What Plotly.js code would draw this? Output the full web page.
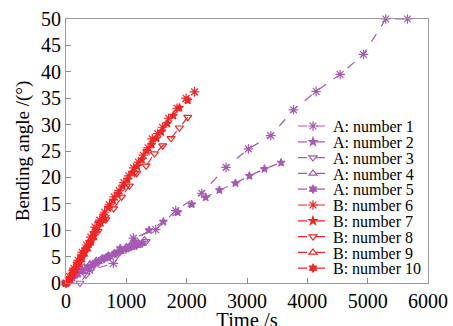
<!DOCTYPE html>
<html><head><meta charset="utf-8">
<script src="https://cdn.plot.ly/plotly-3.0.1.min.js"></script>
<style>html,body{margin:0;padding:0;background:#fff}#c{width:453px;height:326px}</style>
</head><body><div id="c"></div>
<script>
const names = ["A: number 1","A: number 2","A: number 3","A: number 4","A: number 5",
               "B: number 6","B: number 7","B: number 8","B: number 9","B: number 10"];
const a1t = [0,390,785,1116,1487,1819,2250,2653,3024,3395,3770,4146,4544,4930,5300,5660];
const a1y = [0,2.4,3.7,8.5,10.1,13.7,17.0,21.9,25.4,27.9,32.8,36.3,39.5,43.3,50,50];
const a2t = [0,200,430,660,900,1140,1376,1614,1852,2084,2316,2543,2808,3040,3289,3565];
const a2y = [0,1.8,3.3,4.8,6.6,7.9,10.0,11.6,13.4,14.9,16.2,17.6,18.9,20.3,21.6,22.8];
const a3t = [0,232,330,430,530,630,730,830,930,1030,1130,1230,1330];
const a3y = [0,0,1.5,2.8,3.8,4.5,5.0,5.6,6.2,6.6,7.0,7.4,7.9];
const a4t = [0,100,200,300,400,500,600,700,800,900,1000,1100,1200,1300];
const a4y = [0,1.2,2.2,3.0,3.6,4.2,4.7,5.2,5.7,6.3,6.8,7.2,7.6,8.1];
const a5t = [0,90,180,270,360,450,540,630,720,810,900,990,1080,1170,1260];
const a5y = [0,0.8,1.6,2.3,3.0,3.6,4.1,4.6,5.0,5.5,6.0,6.4,6.8,7.1,7.5];
const b6t = [0,60,130,200,270,340,410,480,560,640,720,800,880,960,1040,1120,1200,1280,1360,1430,1520,1600,1700,1840,1990,2130];
const b6y = [0,1.2,2.8,4.3,5.8,7.2,8.7,10.6,11.9,13.4,14.8,16.3,17.5,19.0,20.3,21.8,22.9,24.2,25.6,27.3,28.3,29.5,31.2,33.1,35.0,36.2];
const b7t = [0,50,110,180,250,320,390,460,540,620,700,780,860,940,1020,1100,1180,1260,1340,1420,1500,1580,1680,1780,1880,2020];
const b7y = [0,0.8,2.2,3.7,5.1,6.4,7.8,9.5,11.4,12.8,14.2,15.6,16.9,18.3,19.6,20.9,22.1,23.4,25.0,26.2,27.4,28.6,30.2,31.7,33.2,34.6];
const b8t = [0,130,260,400,530,660,790,920,1050,1172,1327,1465,1603,1741,1879,2018];
const b8y = [0,2.3,4.8,7.6,9.8,12.0,14.1,16.3,18.4,20.8,22.2,24.5,26.0,27.4,29.4,31.4];
const b9t = [0,40,80,120,160,200,240,280,320,360,400,440];
const b9y = [0,0.5,1.3,2.1,3.0,3.8,4.7,5.5,6.4,7.1,7.9,8.6];
const b10t = [0,50,100,150,200,250,300,350,400,450,500,560,620];
const b10y = [0,0.6,1.5,2.4,3.5,4.4,5.5,6.5,7.6,8.6,10.0,11.2,12.1];
const xTicks = [0,1000,2000,3000,4000,5000,6000];
const yTicks = [0,5,10,15,20,25,30,35,40,45,50];

const purple = "#a659b4", red = "#f42424";
const series = [[a1t,a1y],[a2t,a2y],[a3t,a3y],[a4t,a4y],[a5t,a5y],[b6t,b6y],[b7t,b7y],[b8t,b8y],[b9t,b9y],[b10t,b10y]];
const symbols = ["asterisk-open","star","triangle-down-open","triangle-up-open","hexagram",
                 "asterisk-open","star","triangle-down-open","triangle-up-open","hexagram"];
const sizes = [8,6,7,7,6,8,6,7,7,6];
const traces = series.map((s,i)=>{
  const c = i<5?purple:red;
  return {x:s[0], y:s[1], name:names[i], type:"scatter", mode:"lines+markers",
    line:{color:c, width:1.2, dash:"dash"},
    marker:{symbol:symbols[i], size:sizes[i], color:c, line:{color:c, width:1.2}},
    cliponaxis:false};
});
const font = '"Liberation Serif", "Times New Roman", serif';
const layout = {
  width:453, height:326,
  margin:{l:66, r:25, t:19, b:43, autoexpand:false},
  paper_bgcolor:"#fff", plot_bgcolor:"#fff",
  font:{family:font, color:"#000"},
  showlegend:true,
  legend:{x:0.627, y:0.64, xanchor:"left", yanchor:"top", bgcolor:"rgba(0,0,0,0)",
          font:{family:font, size:16, color:"#000"}, tracegroupgap:0, itemwidth:30},
  xaxis:{range:[0,6000], tickvals:xTicks, ticktext:xTicks.map(String), ticks:"inside", ticklen:5,
         tickcolor:"#888", showline:true, linecolor:"#999", linewidth:1, mirror:true,
         showgrid:false, zeroline:false, tickfont:{size:20, family:font},
         title:{text:"Time /s", font:{size:20.5, family:font}, standoff:14}},
  yaxis:{range:[0,50], tickvals:yTicks, ticktext:yTicks.map(String), ticks:"inside", ticklen:5,
         tickcolor:"#888", showline:true, linecolor:"#999", linewidth:1, mirror:true,
         showgrid:false, zeroline:false, tickfont:{size:20, family:font},
         title:{text:"Bending angle /(°)", font:{size:19, family:font}, standoff:6}}
};
Plotly.newPlot("c", traces, layout, {displayModeBar:false, staticPlot:true}).then(gd=>{
  // compact the legend rows to match the reference spacing
  const rows = gd.querySelectorAll(".legend .traces");
  const firstY = 126, step = 15.8;
  const leg = gd.querySelector(".legend");
  const lm = /translate\(([-\d.]+)[ ,]+([-\d.]+)\)/.exec(leg.getAttribute("transform"));
  const ly = lm ? parseFloat(lm[2]) : 0;
  rows.forEach((r,i)=>{
    const m = /translate\(([-\d.]+)[ ,]+([-\d.]+)\)/.exec(r.getAttribute("transform")||"");
    const x = m ? parseFloat(m[1]) : 0;
    r.setAttribute("transform", "translate(" + x + "," + (firstY - ly + i*step) + ")");
  });
  // the reference's x title sits a little lower, partly cut by the bottom edge
  const xt = gd.querySelector(".g-xtitle text");
  if (xt) {
    const y0 = parseFloat(xt.getAttribute("y")) || 0;
    xt.setAttribute("y", y0 + 5);
  }
});
</script></body></html>
